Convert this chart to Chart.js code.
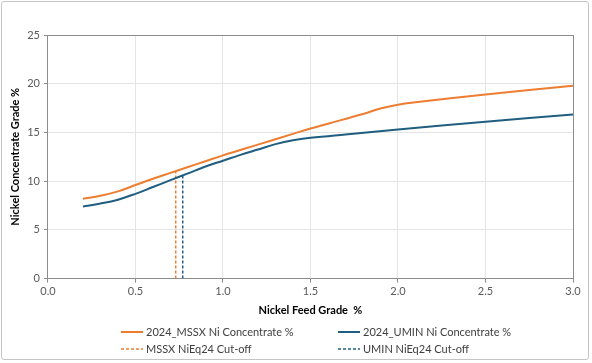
<!DOCTYPE html>
<html>
<head>
<meta charset="utf-8">
<script src="https://cdn.jsdelivr.net/npm/chart.js@4/dist/chart.umd.min.js"></script>
<style>
  html, body { margin: 0; padding: 0; background: #fff; }
  #wrap { position: relative; width: 592px; height: 363px; }
  #frame { position: absolute; left: 1px; top: 1px; width: 588px; height: 359px; border: 1px solid #c4c4c4; border-radius: 3px; box-sizing: border-box; pointer-events: none; }
  canvas { position: absolute; left: 0; top: 0; }
  #legend { position: absolute; left: 0; top: 325px; width: 592px; font-family: Lato, "Open Sans", sans-serif; font-size: 11px; color: #404040; }
  .item { position: absolute; display: flex; align-items: center; white-space: nowrap; }
  .sw { width: 22px; height: 4px; margin-right: 3px; display: block; }
</style>
</head>
<body>
<div id="wrap">
  <canvas id="c" width="592" height="363"></canvas>
  <div id="frame"></div>
  <div id="legend"></div>
</div>
<script>
// ---- data ----
const mssxFeed = [0.2, 0.3, 0.4, 0.5, 0.6, 0.7, 0.8, 0.9, 1.0, 1.2, 1.4, 1.5, 1.6, 1.8, 1.9, 2.0, 2.1, 2.5, 3.0];
const mssxConc = [8.2, 8.5, 8.95, 9.6, 10.25, 10.85, 11.45, 12.05, 12.65, 13.75, 14.85, 15.4, 15.9, 16.9, 17.45, 17.85, 18.1, 18.9, 19.8];
const uminFeed = [0.2, 0.3, 0.4, 0.5, 0.6, 0.7, 0.8, 0.9, 1.0, 1.1, 1.2, 1.3, 1.4, 1.5, 1.7, 2.0, 2.5, 3.0];
const uminConc = [7.4, 7.7, 8.1, 8.7, 9.4, 10.1, 10.8, 11.5, 12.1, 12.7, 13.25, 13.8, 14.2, 14.45, 14.8, 15.3, 16.1, 16.85];
const mssxCutoffX = [0.73, 0.73];
const mssxCutoffY = [0, 11.0];
const uminCutoffX = [0.77, 0.77];
const uminCutoffY = [0, 10.65];
const seriesNames = ["2024_MSSX Ni Concentrate %", "2024_UMIN Ni Concentrate %", "MSSX NiEq24 Cut-off", "UMIN NiEq24 Cut-off"];
const xTitle = "Nickel Feed Grade  %";
const yTitle = "Nickel Concentrate Grade %";

const ORANGE = "#ED7D31";
const BLUE = "#1F5E80";

const pts = (xs, ys) => xs.map((x, i) => ({ x: x, y: ys[i] }));

const datasets = [
  { label: seriesNames[0], data: pts(mssxFeed, mssxConc), borderColor: ORANGE, borderWidth: 2, pointRadius: 0, tension: 0.4 },
  { label: seriesNames[1], data: pts(uminFeed, uminConc), borderColor: BLUE, borderWidth: 2, pointRadius: 0, tension: 0.4 },
  { label: seriesNames[2], data: pts(mssxCutoffX, mssxCutoffY), borderColor: ORANGE, borderWidth: 1.5, borderDash: [3, 2], pointRadius: 0 },
  { label: seriesNames[3], data: pts(uminCutoffX, uminCutoffY), borderColor: BLUE, borderWidth: 1.5, borderDash: [3, 2], pointRadius: 0 }
];

const FONT = "Lato, 'Open Sans', sans-serif";

new Chart(document.getElementById('c'), {
  type: 'line',
  data: { datasets: datasets },
  options: {
    responsive: false,
    animation: false,
    layout: { padding: { left: 9, right: 19, top: 35, bottom: 46 } },
    plugins: { legend: { display: false }, tooltip: { enabled: false } },
    scales: {
      x: {
        type: 'linear', min: 0, max: 3,
        ticks: { stepSize: 0.5, color: '#595959', font: { family: FONT, size: 11 }, callback: v => v.toFixed(1), padding: 2 },
        grid: { color: ctx => (ctx.tick && ctx.tick.value === 3) ? '#8c8c8c' : '#e4e4e4', tickLength: 4, tickColor: '#8c8c8c' },
        border: { color: '#8c8c8c' },
        title: { display: true, text: xTitle, color: '#000', font: { family: FONT, size: 11, weight: 'bold' }, padding: { top: 4, bottom: 0 } }
      },
      y: {
        min: 0, max: 25,
        ticks: { stepSize: 5, color: '#595959', font: { family: FONT, size: 11 }, padding: 4 },
        grid: { color: ctx => (ctx.tick && ctx.tick.value === 25) ? '#8c8c8c' : '#e4e4e4', tickLength: 4, tickColor: '#8c8c8c' },
        border: { color: '#8c8c8c' },
        title: { display: true, text: yTitle, color: '#000', font: { family: FONT, size: 11, weight: 'bold' }, padding: { top: 0, bottom: 1 } }
      }
    }
  }
});

// legend (HTML text)
const SVGNS = 'http://www.w3.org/2000/svg';
const leg = document.getElementById('legend');
const legPos = [[121, 0], [338, 0], [121, 17], [338, 17]];
datasets.forEach((d, i) => {
  const it = document.createElement('div');
  it.className = 'item';
  it.style.left = legPos[i][0] + 'px';
  it.style.top = legPos[i][1] + 'px';
  const sw = document.createElementNS(SVGNS, 'svg');
  sw.setAttribute('class', 'sw');
  sw.setAttribute('width', '22'); sw.setAttribute('height', '4');
  const ln = document.createElementNS(SVGNS, 'line');
  ln.setAttribute('x1', '0'); ln.setAttribute('x2', '22');
  ln.setAttribute('y1', '2'); ln.setAttribute('y2', '2');
  ln.setAttribute('stroke', d.borderColor);
  ln.setAttribute('stroke-width', d.borderDash ? '1.5' : '2');
  if (d.borderDash) ln.setAttribute('stroke-dasharray', '3 2');
  sw.appendChild(ln);
  const tx = document.createElement('span');
  tx.textContent = d.label;
  it.appendChild(sw); it.appendChild(tx);
  leg.appendChild(it);
});
</script>
</body>
</html>
